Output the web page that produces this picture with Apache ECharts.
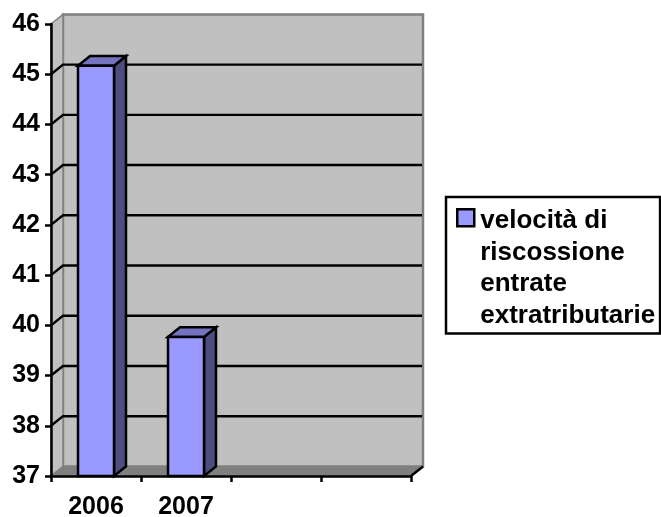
<!DOCTYPE html>
<html><head><meta charset="utf-8">
<style>html,body{margin:0;padding:0;background:#fff}#c{width:661px;height:517px}</style>
<script src="https://cdn.jsdelivr.net/npm/echarts@6/dist/echarts.min.js"></script>
</head><body><div id="c"></div>
<script>
const categories = ['2006', '2007', '', ''];
const values = [45.17, 39.77];
const yTicks = [38, 39, 40, 41, 42, 43, 44, 45, 46];
const seriesName = 'velocità di\nriscossione\nentrate\nextratributarie';
const DX = 12, DY = -9.6;
const FONT = '"Liberation Sans", Arial, sans-serif';
const chart = echarts.init(document.getElementById('c'), null, {renderer: 'canvas'});

function poly(points, fill, stroke, lw) {
  return {type: 'polygon', shape: {points}, style: {fill, stroke: stroke || 'none', lineWidth: lw || 0}};
}
function wallItem(params) {
  const c = params.coordSys, l = c.x, r = c.x + c.width, t = c.y, b = c.y + c.height;
  return {type: 'group', children: [
    poly([[l+DX,t+DY],[r+DX,t+DY],[r+DX,b+DY],[l+DX,b+DY]], '#c0c0c0', '#808080', 2.5),
    poly([[l,t],[l+DX,t+DY],[l+DX,b+DY],[l,b]], '#c0c0c0', '#808080', 1.5),
    poly([[l,b],[l+DX,b+DY],[r+DX,b+DY],[r,b]], '#808080', '#808080', 1),
    {type: 'polyline', shape: {points: [[r,b],[r+DX,b+DY]]}, style: {stroke: '#000', lineWidth: 2.5, fill: 'none'}}
  ]};
}
function gridItem(params, api) {
  const c = params.coordSys, y = api.coord([0, api.value(0)])[1];
  return {type: 'polyline', shape: {points: [[c.x,y],[c.x+DX,y+DY],[c.x+c.width+DX-1,y+DY]]},
    style: {stroke: api.value(0) === 46 ? 'none' : '#000', lineWidth: 2.4, fill: 'none'}};
}
function barItem(params, api) {
  const p = api.coord([api.value(0), api.value(1)]);
  const base = api.coord([api.value(0), 37]);
  const w = api.size([1, 0])[0] * 0.4;
  const x0 = p[0] - w / 2, x1 = p[0] + w / 2, yt = p[1], yb = base[1];
  const s = '#000', lw = 2.5;
  return {type: 'group', children: [
    poly([[x1,yt],[x1+DX,yt+DY],[x1+DX,yb+DY],[x1,yb]], '#4d4d80', s, lw),
    poly([[x0,yt],[x0+DX,yt+DY],[x1+DX,yt+DY],[x1,yt]], '#7373bf', s, lw),
    poly([[x0,yt],[x1,yt],[x1,yb],[x0,yb]], '#9999ff', s, lw)
  ]};
}
chart.setOption({
  animation: false,
  backgroundColor: '#fff',
  grid: {left: 51, top: 24, width: 360, height: 452, outerBoundsMode: 'none'},
  legend: {
    left: 446, top: 197,
    data: [seriesName],
    orient: 'vertical',
    backgroundColor: '#fff',
    borderColor: '#000', borderWidth: 2.5, borderRadius: 0,
    padding: [7, 5, 1, 9],
    itemGap: 0, itemWidth: 19, itemHeight: 126,
    icon: 'path://M0 0L0 0Z M1 4L18 4L18 21L1 21Z M19 126L19 126Z',
    itemStyle: {color: '#9999ff', borderColor: '#000', borderWidth: 2.5},
    selectedMode: false,
    textStyle: {fontFamily: FONT, fontWeight: 'bold', fontSize: 26, lineHeight: 31.5, color: '#000'}
  },
  xAxis: {
    type: 'category', data: categories, z: 10,
    axisLine: {onZero: false, lineStyle: {color: '#000', width: 2.5}},
    axisTick: {show: true, alignWithLabel: false, length: 6, lineStyle: {color: '#000', width: 2.5}},
    axisLabel: {interval: 0, color: '#000', fontFamily: FONT, fontWeight: 'bold', fontSize: 25, margin: 19},
    splitLine: {show: false}
  },
  yAxis: {
    type: 'value', min: 37, max: 46, interval: 1, z: 10,
    axisLine: {show: true, lineStyle: {color: '#000', width: 2.5}},
    axisTick: {show: true, length: 6, lineStyle: {color: '#000', width: 2.5}},
    axisLabel: {color: '#000', fontFamily: FONT, fontWeight: 'bold', fontSize: 25, margin: 11, padding: [3, 0, 0, 0]},
    splitLine: {show: false}
  },
  series: [
    {type: 'custom', name: 'wall', silent: true, z: 1, renderItem: wallItem, data: [0], encode: {x: 0}, clip: false},
    {type: 'custom', name: 'lines', silent: true, z: 2, renderItem: gridItem, coordinateSystem: 'cartesian2d', data: yTicks.map(v => [v]), encode: {y: 0}, clip: false},
    {type: 'custom', name: seriesName, z: 3, renderItem: barItem, clip: false,
     itemStyle: {color: '#9999ff'},
     data: values.map((v, i) => [i, v]), encode: {x: 0, y: 1}}
  ]
});
</script></body></html>
